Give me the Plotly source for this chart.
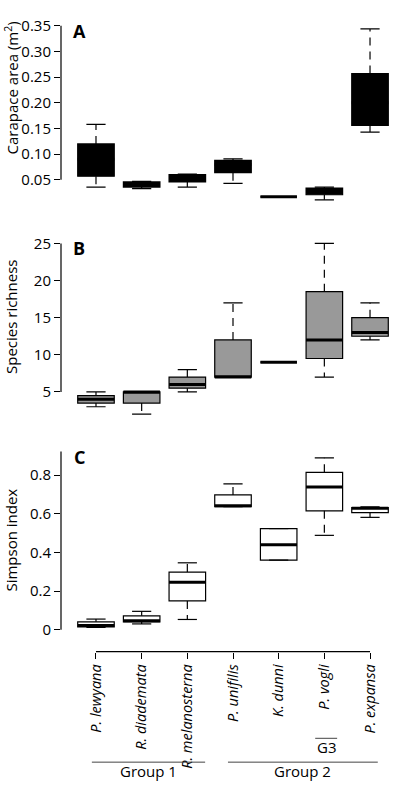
import plotly.graph_objects as go

species = ["P. lewyana", "R. diademata", "R. melanosterna", "P. unifilis",
           "K. dunni", "P. vogli", "P. expansa"]
positions = [1, 2, 3, 4, 5, 6, 7]

# Panel A: carapace area (m2)
a_low = [0.036, 0.033, 0.036, 0.043, 0.017, 0.011, 0.143]
a_q1 = [0.057, 0.036, 0.046, 0.064, 0.017, 0.021, 0.156]
a_med = [0.090, 0.042, 0.054, 0.080, 0.017, 0.028, 0.200]
a_q3 = [0.120, 0.046, 0.060, 0.088, 0.017, 0.034, 0.257]
a_high = [0.158, 0.047, 0.061, 0.091, 0.017, 0.036, 0.344]

# Panel B: species richness
b_low = [3, 2, 5, 7, 9, 7, 12]
b_q1 = [3.5, 3.5, 5.5, 7, 9, 9.5, 12.5]
b_med = [4, 5, 6, 7, 9, 12, 13]
b_q3 = [4.5, 5, 7, 12, 9, 18.5, 15]
b_high = [5, 5, 8, 17, 9, 25, 17]

# Panel C: Simpson index
c_low = [0.012, 0.030, 0.053, 0.636, 0.360, 0.488, 0.581]
c_q1 = [0.014, 0.041, 0.149, 0.636, 0.360, 0.615, 0.605]
c_med = [0.022, 0.046, 0.245, 0.641, 0.440, 0.738, 0.628]
c_q3 = [0.041, 0.072, 0.298, 0.697, 0.523, 0.814, 0.632]
c_high = [0.055, 0.095, 0.346, 0.754, 0.523, 0.889, 0.635]

a_ticks = [0.05, 0.10, 0.15, 0.20, 0.25, 0.30, 0.35]
b_ticks = [5, 10, 15, 20, 25]
c_ticks = [0, 0.2, 0.4, 0.6, 0.8]
c_ticktext = ["0", "0.2", "0.4", "0.6", "0.8"]

W, H = 394, 786
FONT = "Open Sans"
BOXW = 0.8
CAPW = 0.21


def py(p):
    return (H - p) / H


def px(p):
    return p / W


fig = go.Figure()


def add_panel(yax, low, q1, med, q3, high, fill):
    fig.add_trace(go.Box(
        x=positions, q1=q1, median=med, q3=q3, lowerfence=q1, upperfence=q3,
        width=BOXW, fillcolor=fill, line=dict(color="black", width=1.2),
        xaxis="x", yaxis=yax, showlegend=False, hoverinfo="skip",
        boxpoints=False, whiskerwidth=0))
    # whiskers (dashed)
    wx, wy = [], []
    for x, lo, a, b, hi in zip(positions, low, q1, q3, high):
        if hi > b:
            wx += [x, x, None]
            wy += [b, hi, None]
        if lo < a:
            wx += [x, x, None]
            wy += [a, lo, None]
    fig.add_trace(go.Scatter(x=wx, y=wy, mode="lines", xaxis="x", yaxis=yax,
                             line=dict(color="black", width=1.2, dash="8px,6px"),
                             showlegend=False, hoverinfo="skip"))
    # staples
    sx, sy = [], []
    for x, lo, hi in zip(positions, low, high):
        sx += [x - CAPW, x + CAPW, None, x - CAPW, x + CAPW, None]
        sy += [hi, hi, None, lo, lo, None]
    fig.add_trace(go.Scatter(x=sx, y=sy, mode="lines", xaxis="x", yaxis=yax,
                             line=dict(color="black", width=1.2),
                             showlegend=False, hoverinfo="skip"))
    # medians (thick)
    mx, my = [], []
    for x, m in zip(positions, med):
        mx += [x - BOXW / 2, x + BOXW / 2, None]
        my += [m, m, None]
    fig.add_trace(go.Scatter(x=mx, y=my, mode="lines", xaxis="x", yaxis=yax,
                             line=dict(color="black", width=3),
                             showlegend=False, hoverinfo="skip"))


add_panel("y", a_low, a_q1, a_med, a_q3, a_high, "black")
add_panel("y2", b_low, b_q1, b_med, b_q3, b_high, "#999999")
add_panel("y3", c_low, c_q1, c_med, c_q3, c_high, "white")

tickfont = dict(family=FONT, size=15, color="black")
yax_common = dict(showgrid=False, zeroline=False, showline=False,
                  ticks="outside", ticklen=6, tickcolor="black", tickwidth=1,
                  tickfont=tickfont, anchor="x", fixedrange=True)

fig.update_layout(
    width=W, height=H,
    margin=dict(l=0, r=0, t=0, b=0),
    paper_bgcolor="white", plot_bgcolor="white",
    xaxis=dict(domain=[px(61), 1], range=[0.234, 7.525], anchor="free",
               position=py(650.7), showgrid=False, zeroline=False,
               showline=False, ticks="outside", ticklen=6, tickcolor="black",
               tickvals=positions,
               ticktext=["<i>" + s + "</i>" for s in species],
               tickangle=-90, tickfont=dict(family=FONT, size=14.5, color="black"),
               fixedrange=True),
    yaxis=dict(domain=[py(200), py(15)], range=[0.0035, 0.3616],
               tickvals=a_ticks, ticktext=["%.2f" % v for v in a_ticks],
               **yax_common),
    yaxis2=dict(domain=[py(418), py(232)], range=[1.17, 26.07],
                tickvals=b_ticks, **yax_common),
    yaxis3=dict(domain=[py(640), py(445)], range=[-0.058, 0.944],
                tickvals=c_ticks, ticktext=c_ticktext, **yax_common),
)

line = dict(color="black", width=1.2)
shapes = [
    dict(type="line", xref="paper", yref="y", x0=px(61), x1=px(61),
         y0=a_ticks[0], y1=a_ticks[-1], line=line),
    dict(type="line", xref="paper", yref="y2", x0=px(61), x1=px(61),
         y0=b_ticks[0], y1=b_ticks[-1], line=line),
    dict(type="line", xref="paper", yref="y3", x0=px(61), x1=px(61),
         y0=0, y1=0.922, line=line),
    dict(type="line", xref="x", yref="paper", x0=1, x1=7,
         y0=py(650.7), y1=py(650.7), line=line),
    dict(type="line", xref="x", yref="paper", x0=0.91, x1=3.39,
         y0=py(762), y1=py(762), line=dict(color="#444444", width=1)),
    dict(type="line", xref="x", yref="paper", x0=3.89, x1=7.17,
         y0=py(762), y1=py(762), line=dict(color="#444444", width=1)),
    dict(type="line", xref="x", yref="paper", x0=5.8, x1=6.28,
         y0=py(738), y1=py(738), line=dict(color="#444444", width=1)),
]
fig.update_layout(shapes=shapes)

ann = []
for txt, yc in [("Carapace area (m<sup>2</sup>)", 84), ("Species richness", 314),
                ("Simpson index", 539)]:
    ann.append(dict(text=txt, xref="paper", yref="paper", x=px(11), y=py(yc),
                    textangle=-90, showarrow=False, xanchor="center",
                    yanchor="middle", font=dict(family=FONT, size=15, color="black")))
for txt, yc in [("A", 26), ("B", 245), ("C", 455)]:
    ann.append(dict(text="<b>" + txt + "</b>", xref="paper", yref="paper",
                    x=px(79), y=py(yc), showarrow=False, xanchor="center",
                    yanchor="middle", font=dict(family=FONT, size=18, color="black")))
for txt, xc, yc in [("Group 1", 2.15, 771), ("Group 2", 5.53, 771), ("G3", 6.04, 747)]:
    ann.append(dict(text=txt, xref="x", yref="paper", x=xc, y=py(yc),
                    showarrow=False, xanchor="center", yanchor="middle",
                    font=dict(family=FONT, size=15, color="black")))
fig.update_layout(annotations=ann)

fig.write_html("out.html", config={"displayModeBar": False},
               post_script="document.body.style.margin='0';document.body.style.overflow='hidden';")
